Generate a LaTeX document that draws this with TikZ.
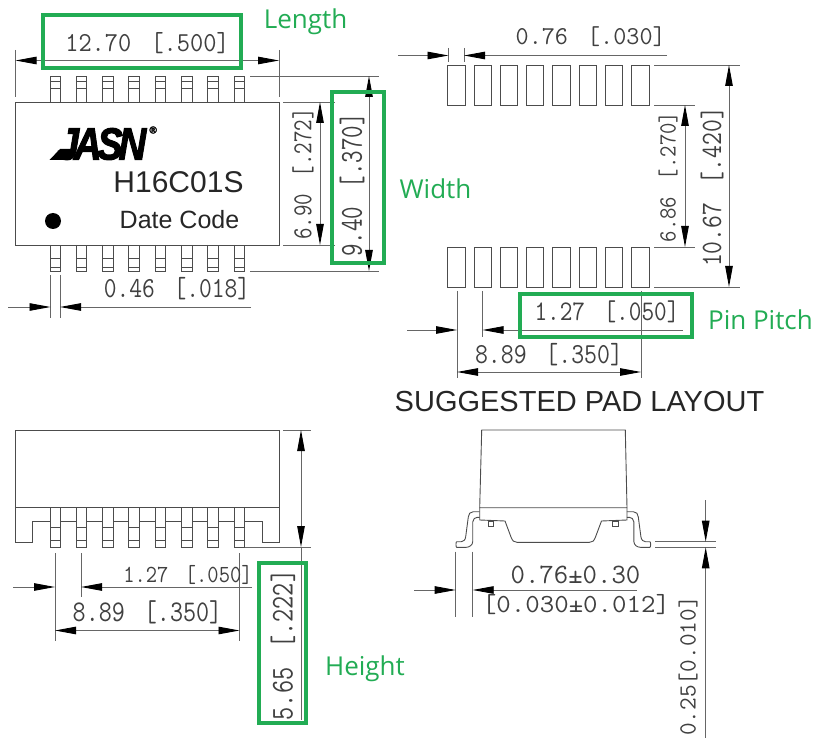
\documentclass[tikz,border=0pt]{standalone}
\usepackage{fontspec}
\usetikzlibrary{arrows.meta}
\newfontfamily\partfont{Liberation Sans}
\newfontfamily\notefont{Open Sans}
\newfontfamily\logofont[UprightFont=* Bold Italic, FakeBold=2.5]{Liberation Sans}
\newcommand{\dimgap}{\hspace{0.75em}}
\definecolor{notegreen}{RGB}{34,172,84}
\tikzset{
  part/.style={draw=black!70, line width=0.9pt},
  dim/.style={draw=black!60, line width=0.9pt},
  dimtext/.style 2 args={font=\ttfamily\fontsize{#1}{#1}\selectfont, text=black!75, inner sep=0pt, xscale=#2},
  note/.style={font=\notefont\fontsize{26}{26}\selectfont, text=notegreen, inner sep=0pt},
  notebox/.style={draw=notegreen, line width=4pt},
}
\begin{document}
\begin{tikzpicture}[x=1pt, y=-1pt, >={Triangle[length=21pt,width=7.5pt,black]}]
\useasboundingbox (0,0) rectangle (815,738);

% top view
\draw[part] (15.5,102) rectangle (279,245);
\foreach \i in {0,...,7} {
  \draw[part] (50+26.3*\i,102) -- (50+26.3*\i,76) -- (60.5+26.3*\i,76) -- (60.5+26.3*\i,102);
  \draw[part] (50+26.3*\i,81) -- (60.5+26.3*\i,81);
  \draw[part] (50+26.3*\i,88) -- (60.5+26.3*\i,88);
  \draw[part] (50+26.3*\i,245) -- (50+26.3*\i,271) -- (60.5+26.3*\i,271) -- (60.5+26.3*\i,245);
  \draw[part] (50+26.3*\i,258) -- (60.5+26.3*\i,258);
  \draw[part] (50+26.3*\i,267) -- (60.5+26.3*\i,267);
}
\fill (49.5,160) -- (60,149) -- (74,149) -- (70,160) -- cycle;
\node[font=\logofont\fontsize{45}{45}\selectfont, inner sep=0pt, xscale=0.85] (logo) at (102,144) {J\kern-6pt A\kern-5pt S\kern-5pt N};
\node[font=\logofont\fontsize{10}{10}\selectfont, inner sep=0pt] (regmark) at (153,130) {®};
\node[font=\partfont\fontsize{30}{30}\selectfont, text=black!85, inner sep=0pt] (partno) at (178.5,182) {H16C01S};
\node[font=\partfont\fontsize{25}{25}\selectfont, text=black!85, inner sep=0pt] (datecode) at (179.5,220) {Date Code};
\fill (53,221) circle (8);

\draw[dim] (15.5,50) -- (15.5,97);
\draw[dim] (279,50) -- (279,97);
\draw[dim, <->] (15.5,60.5) -- (279,60.5);
\node[dimtext={27.4}{.935}] (toplen) at (147.5,43) {12.70\dimgap[.500]};

\draw[dim] (250,76) -- (379,76);
\draw[dim] (250,271) -- (379,271);
\draw[dim] (283,102) -- (335,102);
\draw[dim] (283,245) -- (335,245);
\draw[dim, <->] (320,102) -- (320,245);
\draw[dim, <->] (369,76) -- (369,271);
\node[rotate=90, dimtext={27.4}{.815}] (topbody) at (303,174) {6.90\dimgap[.272]};
\node[rotate=90, dimtext={32}{.76}] (topwide) at (352,185) {9.40\dimgap[.370]};

\draw[dim] (50.5,275) -- (50.5,318);
\draw[dim] (60,275) -- (60,318);
\draw[dim, ->] (8,307) -- (50.5,307);
\draw[dim, ->] (251,307) -- (60,307);
\node[dimtext={29}{.855}] (toppin) at (177,289) {0.46\dimgap[.018]};

% pad layout
\foreach \i in {0,...,7} {
  \draw[part] (447.7+26.3*\i,65) rectangle (465+26.3*\i,105.3);
  \draw[part] (447.7+26.3*\i,247) rectangle (465+26.3*\i,287);
}
\draw[dim] (448.5,48) -- (448.5,62);
\draw[dim] (464,48) -- (464,62);
\draw[dim, ->] (398,55.5) -- (448.5,55.5);
\draw[dim, ->] (667,55.5) -- (464,55.5);
\node[dimtext={25.7}{.99}] (padwide) at (590.7,37) {0.76\dimgap[.030]};

\draw[dim] (654,65) -- (740,65);
\draw[dim] (654,287) -- (740,287);
\draw[dim] (654,105) -- (695,105);
\draw[dim] (654,247) -- (695,247);
\draw[dim, <->] (685,105) -- (685,247);
\draw[dim, <->] (729,65) -- (729,287);
\node[rotate=90, dimtext={24.6}{.9}] (padgap) at (668,177) {6.86\dimgap[.270]};
\node[rotate=90, dimtext={29.5}{.845}] (padall) at (712,187) {10.67\dimgap[.420]};

\draw[dim] (457,291) -- (457,378);
\draw[dim] (482.5,291) -- (482.5,337);
\draw[dim] (641,291) -- (641,378);
\draw[dim, ->] (407,330) -- (457,330);
\draw[dim, ->] (683,330) -- (482.5,330);
\draw[dim, <->] (457,372) -- (641,372);
\node[dimtext={28.4}{.865}] (padpitch) at (607,312) {1.27\dimgap[.050]};
\node[dimtext={29}{.865}] (padspan) at (549,355) {8.89\dimgap[.350]};
\node[font=\partfont\fontsize{29}{29}\selectfont, text=black!85, inner sep=0pt] (padtitle) at (579.5,402) {SUGGESTED PAD LAYOUT};

% side view
\draw[part] (15.5,430) rectangle (279,507.5);
\draw[part] (15.5,507.5) -- (279,507.5) -- (279,542) -- (262,542) -- (262,521) -- (32,521) -- (32,542) -- (15.5,542) -- cycle;
\foreach \i in {0,...,7} {
  \draw[part, fill=white] (50+26.3*\i,507.5) rectangle (60.5+26.3*\i,547.3);
  \draw[part] (50+26.3*\i,527) -- (60.5+26.3*\i,527);
  \draw[part] (50+26.3*\i,540) -- (60.5+26.3*\i,540);
}
\draw[dim] (283,430) -- (311,430);
\draw[dim] (245,547) -- (311,547);
\draw[dim, <->] (301,430) -- (301,547);
\draw[dim] (301,547) -- (301,720);
\node[rotate=90, dimtext={31.7}{.805}] (sidehigh) at (283,645) {5.65\dimgap[.222]};

\draw[dim] (55,553) -- (55,641);
\draw[dim] (81,553) -- (81,597);
\draw[dim] (239.5,553) -- (239.5,641);
\draw[dim, ->] (13,587) -- (55,587);
\draw[dim, ->] (252,587) -- (81,587);
\draw[dim, <->] (55,630.5) -- (239.5,630.5);
\node[dimtext={24.6}{.89}] (sidepitch) at (188,575) {1.27\dimgap[.050]};
\node[dimtext={30}{.845}] (sidespan) at (147.5,612.5) {8.89\dimgap[.350]};

% end view
\draw[part] (479.7,507.7) -- (481.7,430) -- (625.3,430) -- (627,507.7) -- cycle;
\draw[part] (479.7,507.7) -- (479.7,520) -- (505,521) -- (511,537) .. controls (512.5,541) and (514,542.3) .. (517,542.3) -- (589.5,542.3) .. controls (592.5,542.3) and (594,541) .. (595.5,537) -- (601.5,521) -- (627,520) -- (627,507.7);
\draw[part] (488.3,521.7) rectangle (493.7,526.7);
\draw[part] (612.7,521.7) rectangle (618.3,526.7);
\foreach \m in {1,-1} {
  \begin{scope}[xshift=553.3pt, xscale=\m]
    \draw[part] (-73.6,511.7) -- (-80,511.7) .. controls (-83,511.7) and (-85,514) .. (-85,517) -- (-87.6,536.7) .. controls (-88,540) and (-90,541.7) .. (-92,541.7) -- (-96.6,541.7) .. controls (-97.6,541.7) and (-97.6,547.3) .. (-96.6,547.3) -- (-87,547.3) .. controls (-84,547.3) and (-80.6,545) .. (-80.6,541.7) -- (-80.6,522) .. controls (-80.6,519) and (-78,517.3) .. (-76,517.3) -- (-73.6,517.3);
  \end{scope}
}
\draw[dim] (455.7,551.7) -- (455.7,616.7);
\draw[dim] (472.7,551.7) -- (472.7,616.7);
\draw[dim, ->] (414,590) -- (455.7,590);
\draw[dim, ->] (637,590) -- (472.7,590);
\node[dimtext={28}{1}] (endfoot) at (575.5,575) {0.76±0.30};
\node[dimtext={26}{1.08}] (endfootin) at (576,605) {[0.030±0.012]};

\draw[dim] (655,541.7) -- (716,541.7);
\draw[dim] (655,547.3) -- (716,547.3);
\draw[dim, ->] (705.7,500) -- (705.7,541.7);
\draw[dim, ->] (705.7,738) -- (705.7,547.3);
\node[rotate=90, dimtext={24.6}{1}] (endgap) at (688,666) {0.25[0.010]};

% green marks
\draw[notebox] (43,15.5) rectangle (240.5,68.5);
\draw[notebox] (331.5,92.5) rectangle (383.5,263);
\draw[notebox] (520,294.5) rectangle (691.5,337.5);
\draw[notebox] (258.5,563) rectangle (306,722.5);
\node[note] (length) at (305.5,21.5) {Length};
\node[note] (width) at (435.5,188.5) {Width};
\node[note] (pinpitch) at (760.5,320) {Pin Pitch};
\node[note] (height) at (365,669) {Height};
\end{tikzpicture}
\end{document}
